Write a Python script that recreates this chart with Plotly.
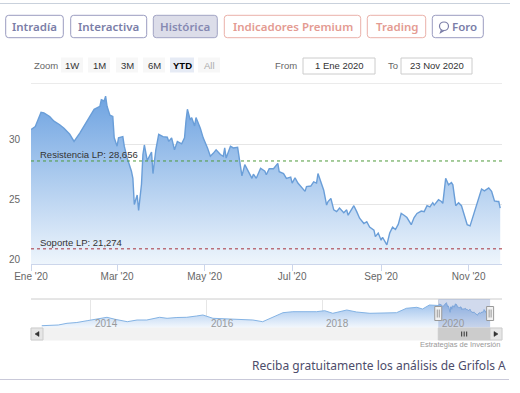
import plotly.graph_objects as go
import pandas as pd

W, H = 520, 393


def fx(p):
    return p / W


def fy(p):
    return 1 - p / H


# ---------------- data ----------------
dates = [
    "2020-01-01", "2020-01-04", "2020-01-08", "2020-01-10", "2020-01-14", "2020-01-17", "2020-01-21", "2020-01-24", "2020-01-28", "2020-01-31",
    "2020-02-04", "2020-02-07", "2020-02-11", "2020-02-14", "2020-02-18", "2020-02-19", "2020-02-21", "2020-02-22", "2020-02-23", "2020-02-25",
    "2020-02-27", "2020-02-28", "2020-03-01", "2020-03-02", "2020-03-05", "2020-03-06", "2020-03-08", "2020-03-11", "2020-03-12", "2020-03-13",
    "2020-03-15", "2020-03-16", "2020-03-18", "2020-03-19", "2020-03-20", "2020-03-22", "2020-03-25", "2020-03-26", "2020-03-28", "2020-03-30",
    "2020-04-02", "2020-04-05", "2020-04-06", "2020-04-08", "2020-04-10", "2020-04-12", "2020-04-15", "2020-04-17", "2020-04-18", "2020-04-19",
    "2020-04-21", "2020-04-22", "2020-04-24", "2020-04-25", "2020-04-28", "2020-04-30", "2020-05-03", "2020-05-05", "2020-05-07", "2020-05-09",
    "2020-05-12", "2020-05-14", "2020-05-15", "2020-05-16", "2020-05-19", "2020-05-21", "2020-05-24", "2020-05-26", "2020-05-27", "2020-05-29",
    "2020-06-01", "2020-06-03", "2020-06-04", "2020-06-06", "2020-06-09", "2020-06-12", "2020-06-13", "2020-06-15", "2020-06-18", "2020-06-21",
    "2020-06-22", "2020-06-25", "2020-06-27", "2020-06-30", "2020-07-01", "2020-07-03", "2020-07-05", "2020-07-08", "2020-07-10", "2020-07-11",
    "2020-07-14", "2020-07-16", "2020-07-18", "2020-07-19", "2020-07-21", "2020-07-23", "2020-07-25", "2020-07-26", "2020-07-28", "2020-07-30",
    "2020-08-01", "2020-08-03", "2020-08-06", "2020-08-08", "2020-08-09", "2020-08-11", "2020-08-13", "2020-08-15", "2020-08-17", "2020-08-20",
    "2020-08-22", "2020-08-24", "2020-08-27", "2020-08-28", "2020-08-30", "2020-09-01", "2020-09-02", "2020-09-05", "2020-09-07", "2020-09-09",
    "2020-09-11", "2020-09-13", "2020-09-15", "2020-09-17", "2020-09-19", "2020-09-22", "2020-09-24", "2020-09-26", "2020-09-29", "2020-10-01",
    "2020-10-03", "2020-10-05", "2020-10-07", "2020-10-08", "2020-10-11", "2020-10-13", "2020-10-14", "2020-10-16", "2020-10-18", "2020-10-20",
    "2020-10-21", "2020-10-23", "2020-10-25", "2020-10-27", "2020-10-29", "2020-10-31", "2020-11-02", "2020-11-04", "2020-11-07", "2020-11-10",
    "2020-11-12", "2020-11-14", "2020-11-15", "2020-11-17", "2020-11-19", "2020-11-21", "2020-11-22", "2020-11-23",
]
prices = [
    31.3, 31.55, 32.75, 32.7, 32.4, 32.0, 31.7, 31.4, 30.9, 30.3,
    31.0, 31.6, 32.4, 33.0, 33.25, 33.8, 33.7, 34.1, 33.25, 32.5,
    32.4, 30.6, 29.9, 30.6, 30.7, 29.9, 28.9, 27.8, 27.2, 25.0,
    25.8, 24.5, 26.7, 29.2, 30.0, 28.7, 29.4, 27.6, 29.6, 30.9,
    30.7, 30.65, 30.3, 30.6, 29.6, 30.3, 30.1, 30.6, 32.0, 33.0,
    32.1, 32.3, 31.6, 32.3, 31.4, 30.6, 29.75, 29.05, 29.3, 29.6,
    29.2, 29.05, 29.75, 28.9, 29.9, 29.75, 29.8, 28.1, 27.4, 28.35,
    27.65, 27.2, 27.55, 27.2, 28.05, 27.8, 27.5, 28.0, 28.0, 28.45,
    27.75, 27.6, 27.2, 27.3, 26.8, 27.25, 26.8, 26.35, 26.1, 26.5,
    26.55, 26.9, 26.8, 27.6, 26.9, 26.2, 24.95, 25.25, 25.5, 24.55,
    24.4, 24.7, 24.3, 24.55, 24.1, 24.55, 24.9, 24.4, 23.85, 23.4,
    23.55, 23.1, 22.85, 22.3, 22.6, 22.0, 22.25, 21.6, 22.6, 23.1,
    22.9, 23.35, 24.25, 24.1, 23.9, 23.3, 23.9, 24.25, 24.45, 24.4,
    24.9, 24.8, 25.15, 24.95, 25.4, 25.25, 25.1, 27.2, 26.65, 26.85,
    26.65, 24.9, 25.15, 24.9, 24.0, 23.3, 23.2, 24.0, 25.1, 26.3,
    26.15, 26.35, 26.4, 26.1, 25.3, 25.25, 25.25, 24.7,
]
assert len(dates) == len(prices)

# navigator history (2013-2019)
hist_dates = [
    "2013-02-26", "2013-04-19", "2013-06-10", "2013-08-04", "2013-10-05", "2013-12-09",
    "2014-02-10", "2014-04-13", "2014-06-03", "2014-08-19", "2014-10-20", "2014-12-20",
    "2015-03-11", "2015-04-27", "2015-06-28", "2015-08-29", "2015-10-30", "2015-12-09",
    "2016-02-10", "2016-05-08", "2016-07-27", "2016-10-19", "2016-12-20",
    "2017-02-21", "2017-04-27", "2017-06-28", "2017-09-24", "2017-11-24",
    "2018-01-15", "2018-03-07", "2018-06-03", "2018-08-04", "2018-10-27",
    "2019-01-15", "2019-04-13", "2019-06-14", "2019-08-19", "2019-09-24", "2019-11-06",
]
hist_prices = [
    11.1, 11.8, 11.8, 13.5, 14.3, 16.1,
    18.1, 19.5, 17.5, 15.1, 16.8, 16.8,
    19.5, 18.5, 19.3, 19.5, 20.8, 21.8,
    18.5, 17.8, 17.5, 16.8, 15.1,
    19.5, 24.1, 25.1, 24.8, 25.1,
    26.1, 23.5, 26.8, 24.8, 23.5,
    23.8, 24.1, 28.5, 29.5, 27.8, 31.8,
]
assert len(hist_dates) == len(hist_prices)

resistance = 28.656
support = 21.274
month_ticks = ["2020-01-01", "2020-03-01", "2020-05-01", "2020-07-01", "2020-09-01", "2020-11-01"]
month_labels = ["Ene '20", "Mar '20", "May '20", "Jul '20", "Sep '20", "Nov '20"]
nav_year_ticks = ["2014-01-01", "2016-01-01", "2018-01-01", "2020-01-01"]
nav_year_labels = ["2014", "2016", "2018", "2020"]
y_ticks = [20, 25, 30]
from_label = "1 Ene 2020"
to_label = "23 Nov 2020"
top_tabs = ["Intradía", "Interactiva", "Histórica", "Indicadores Premium", "Trading", "Foro"]
zoom_buttons = ["1W", "1M", "3M", "6M", "YTD", "All"]

CHART_FONT = "Liberation Sans"
PAGE_FONT = "Noto Sans"


def fmt(v):
    return f"{v:.3f}".replace(".", ",")


# ---------------- traces ----------------
fig = go.Figure()
fig.add_trace(go.Scatter(
    x=dates, y=prices, mode="lines",
    line=dict(color="#6a9ed8", width=1.4),
    fill="tozeroy",
    fillgradient=dict(type="vertical",
                      colorscale=[[0, "rgb(238,245,252)"], [1, "rgb(110,163,225)"]],
                      start=20, stop=34.1),
    hoverinfo="skip", showlegend=False,
))
fig.add_trace(go.Scatter(
    x=hist_dates + dates, y=hist_prices + prices, mode="lines",
    xaxis="x2", yaxis="y2",
    line=dict(color="#84b3e4", width=1),
    fill="tozeroy",
    fillgradient=dict(type="vertical",
                      colorscale=[[0, "rgb(244,248,253)"], [1, "rgb(155,192,236)"]],
                      start=8.8, stop=34.1),
    hoverinfo="skip", showlegend=False,
))

shapes = []
annotations = []


def P(x, y):
    return f"{fx(x):.5f} {fy(y):.5f}"


def rrect(x0, y0, x1, y1, r, fill, line, lw=1):
    path = (f"M {P(x0 + r, y0)} L {P(x1 - r, y0)} Q {P(x1, y0)} {P(x1, y0 + r)} "
            f"L {P(x1, y1 - r)} Q {P(x1, y1)} {P(x1 - r, y1)} L {P(x0 + r, y1)} "
            f"Q {P(x0, y1)} {P(x0, y1 - r)} L {P(x0, y0 + r)} Q {P(x0, y0)} {P(x0 + r, y0)} Z")
    shapes.append(dict(type="path", xref="paper", yref="paper", path=path,
                       fillcolor=fill, line=dict(color=line, width=lw), layer="above"))


def text(x, y, s, size, color, anchor="center", family=PAGE_FONT, weight="normal"):
    annotations.append(dict(x=fx(x), y=fy(y), xref="paper", yref="paper", text=s,
                            showarrow=False, xanchor=anchor, yanchor="middle",
                            font=dict(family=family, size=size, color=color, weight=weight)))


def hline(x0, x1, y, color, w=1):
    shapes.append(dict(type="line", xref="paper", yref="paper", x0=fx(x0), x1=fx(x1),
                       y0=fy(y), y1=fy(y), line=dict(color=color, width=w)))


# ---------------- page chrome: top tabs ----------------
hline(0, 510, 3.5, "#c9d1dc")
tab_pos = [(5.7, 63.3), (70.7, 146.7), (153.3, 217.3), (224.3, 360.7), (367.3, 425.7), (432.3, 483.3)]
purple_txt, purple_bd = "#7b7ea8", "#9a9cc0"
salmon_txt, salmon_bd = "#e49b92", "#eab1a9"
for i, (lab, (a, b)) in enumerate(zip(top_tabs, tab_pos)):
    if lab in ("Indicadores Premium", "Trading"):
        tc, bc, fc = salmon_txt, salmon_bd, "white"
    elif lab == "Histórica":
        tc, bc, fc = "#8689b2", "#a2a4c4", "#dcdde9"
    else:
        tc, bc, fc = purple_txt, purple_bd, "white"
    rrect(a, 15.3, b, 37.7, 3, fc, bc)
    if lab == "Foro":
        text(464, 26.5, lab, 11.5, tc, weight=600)
        shapes.append(dict(type="circle", xref="paper", yref="paper", x0=fx(439.5), x1=fx(448.5),
                           y0=fy(30.5), y1=fy(22), line=dict(color=tc, width=1.2)))
        shapes.append(dict(type="path", xref="paper", yref="paper",
                           path=f"M {P(441.5, 29.8)} L {P(440.5, 32.5)} L {P(444, 30.4)}",
                           line=dict(color=tc, width=1.2)))
    else:
        text((a + b) / 2, 26.5, lab, 11.5, tc, weight=600)

# ---------------- range selector row ----------------
text(32, 65.5, "Zoom", 9.5, "#666666", anchor="left", family=CHART_FONT)
zb_pos = [(61, 83), (88, 110), (116, 138), (143, 165), (170, 194), (198, 220)]
for lab, (a, b) in zip(zoom_buttons, zb_pos):
    sel = lab == "YTD"
    shapes.append(dict(type="rect", xref="paper", yref="paper", x0=fx(a), x1=fx(b),
                       y0=fy(72.5), y1=fy(57.5), fillcolor="#e6ebf5" if sel else "#f7f7f7",
                       line=dict(width=0)))
    text((a + b) / 2, 65.5, lab, 9.5, "#000000" if sel else ("#aaaaaa" if lab == "All" else "#333333"),
         family=CHART_FONT, weight="bold" if sel else "normal")
text(286, 65.5, "From", 9.5, "#666666", family=CHART_FONT)
text(393, 65.5, "To", 9.5, "#666666", family=CHART_FONT)
for lab, (a, b) in [(from_label, (303, 375)), (to_label, (401, 472))]:
    shapes.append(dict(type="rect", xref="paper", yref="paper", x0=fx(a), x1=fx(b),
                       y0=fy(74), y1=fy(58), fillcolor="white", line=dict(color="#cccccc", width=1)))
    text((a + b) / 2, 65.5, lab, 9.5, "#333333", family=CHART_FONT)
hline(31, 502, 83.5, "#ebebeb")

# ---------------- resistance / support ----------------
for val, name, col in [(resistance, "Resistencia LP", "#4e9a3a"), (support, "Soporte LP", "#a8323c")]:
    shapes.append(dict(type="line", xref="x domain", yref="y", x0=0, x1=1, y0=val, y1=val,
                       line=dict(color=col, width=1, dash="dot"), layer="above"))
    annotations.append(dict(xref="x domain", yref="y", x=0, y=val, xshift=7, yshift=6.5,
                            text=f"{name}: {fmt(val)}", showarrow=False, xanchor="left",
                            yanchor="middle", font=dict(family=CHART_FONT, size=9.5, color="#333333")))

# ---------------- navigator decorations ----------------
sel_start, sel_end = dates[0], dates[-1]
sel_mid = (pd.Timestamp(sel_start) + (pd.Timestamp(sel_end) - pd.Timestamp(sel_start)) / 2).strftime("%Y-%m-%d %H:%M")
NAV_TOP, NAV_BOT = 299, 328
SB_TOP, SB_BOT = 328, 340

shapes.append(dict(type="rect", xref="x2", yref="paper", x0=sel_start, x1=sel_end,
                   y0=fy(NAV_BOT), y1=fy(NAV_TOP), fillcolor="rgba(102,133,194,0.3)",
                   line=dict(width=0), layer="above"))
shapes.append(dict(type="line", xref="paper", yref="paper", x0=fx(31), x1=fx(502), y0=fy(NAV_TOP), y1=fy(NAV_TOP),
                   line=dict(color="#cccccc", width=1), layer="below"))
shapes.append(dict(type="rect", xref="paper", yref="paper", x0=fx(31), x1=fx(502),
                   y0=fy(SB_BOT), y1=fy(SB_TOP), fillcolor="#f2f2f2", line=dict(color="#f2f2f2", width=1)))
shapes.append(dict(type="rect", xref="x2", yref="paper", x0=sel_start, x1=sel_end,
                   y0=fy(SB_BOT), y1=fy(SB_TOP), fillcolor="#cccccc", line=dict(color="#cccccc", width=1)))
for off in (-2.5, 0, 2.5):
    shapes.append(dict(type="line", xref="x2", yref="paper", xsizemode="pixel", xanchor=sel_mid,
                       x0=off, x1=off, y0=fy(336.5), y1=fy(331.5), line=dict(color="#333333", width=1)))
for a, b, tri in [(31, 43, [(39, 331.5), (35, 334), (39, 336.5)]), (490, 502, [(494, 331.5), (498, 334), (494, 336.5)])]:
    shapes.append(dict(type="rect", xref="paper", yref="paper", x0=fx(a), x1=fx(b),
                       y0=fy(SB_BOT), y1=fy(SB_TOP), fillcolor="#e6e6e6", line=dict(color="#cccccc", width=1)))
    shapes.append(dict(type="path", xref="paper", yref="paper",
                       path=f"M {P(*tri[0])} L {P(*tri[1])} L {P(*tri[2])} Z",
                       fillcolor="#333333", line=dict(color="#333333", width=0.5)))
for anchor in (sel_start, sel_end):
    shapes.append(dict(type="rect", xref="x2", yref="paper", xsizemode="pixel", xanchor=anchor,
                       x0=-3.5, x1=3.5, y0=fy(320.5), y1=fy(306.5), fillcolor="#f2f2f2",
                       line=dict(color="#999999", width=1), layer="above"))
    for off in (-1, 1):
        shapes.append(dict(type="line", xref="x2", yref="paper", xsizemode="pixel", xanchor=anchor,
                           x0=off, x1=off, y0=fy(317.5), y1=fy(309.5),
                           line=dict(color="#999999", width=1), layer="above"))
for t, lab in zip(nav_year_ticks, nav_year_labels):
    annotations.append(dict(xref="x2", yref="paper", x=t, y=fy(323), xshift=2, text=lab,
                            showarrow=False, xanchor="left", yanchor="middle",
                            font=dict(family=CHART_FONT, size=10, color="#999999")))

# ---------------- bottom texts ----------------
text(502, 344.5, "Estrategias de Inversión", 7.5, "#999999", anchor="right", family=CHART_FONT)
text(508, 365.5, "Reciba gratuitamente los análisis de Grifols A", 12, "#4d4d6b", anchor="right")
hline(0, 509, 379.5, "#c9c9d9")

# ---------------- layout ----------------
fig.update_layout(
    template="none",
    width=W, height=H, autosize=False,
    margin=dict(l=0, r=0, t=0, b=0, pad=0, autoexpand=False),
    paper_bgcolor="white", plot_bgcolor="white",
    showlegend=False,
    xaxis=dict(domain=[fx(31), fx(502)], anchor="y", type="date", automargin=False,
               range=["2020-01-01", "2020-11-24 06:00"],
               tickmode="array", tickvals=month_ticks, ticktext=month_labels,
               ticks="outside", ticklen=6, tickcolor="#ccd6eb", tickwidth=1,
               ticklabelstandoff=-3,
               showline=True, linecolor="#ccd6eb", linewidth=1,
               showgrid=False, zeroline=False, fixedrange=True,
               tickfont=dict(family=CHART_FONT, size=10, color="#666666")),
    yaxis=dict(domain=[fy(264), fy(90)], anchor="x", range=[20, 34.62], automargin=False,
               tickmode="array", tickvals=y_ticks, ticks="",
               showgrid=True, gridcolor="#e6e6e6", gridwidth=1,
               zeroline=False, showline=False, fixedrange=True,
               ticklabelshift=-5, ticklabelstandoff=10,
               tickfont=dict(family=CHART_FONT, size=10, color="#666666")),
    xaxis2=dict(domain=[fx(31), fx(502)], anchor="y2", type="date", automargin=False,
                range=["2012-12-20", "2021-02-06"],
                tickmode="array", tickvals=nav_year_ticks, showticklabels=False,
                showgrid=True, gridcolor="#e6e6e6", ticks="", showline=False,
                zeroline=False, fixedrange=True),
    yaxis2=dict(domain=[fy(NAV_BOT), fy(NAV_TOP)], anchor="x2", range=[8.8, 37.8], automargin=False,
                showgrid=False, showticklabels=False, zeroline=False, showline=False,
                fixedrange=True),
    shapes=shapes,
    annotations=annotations,
)

fig.write_html(
    "out.html",
    config={"displayModeBar": False},
    post_script="document.body.style.margin='0px';document.documentElement.style.overflow='hidden';",
)
